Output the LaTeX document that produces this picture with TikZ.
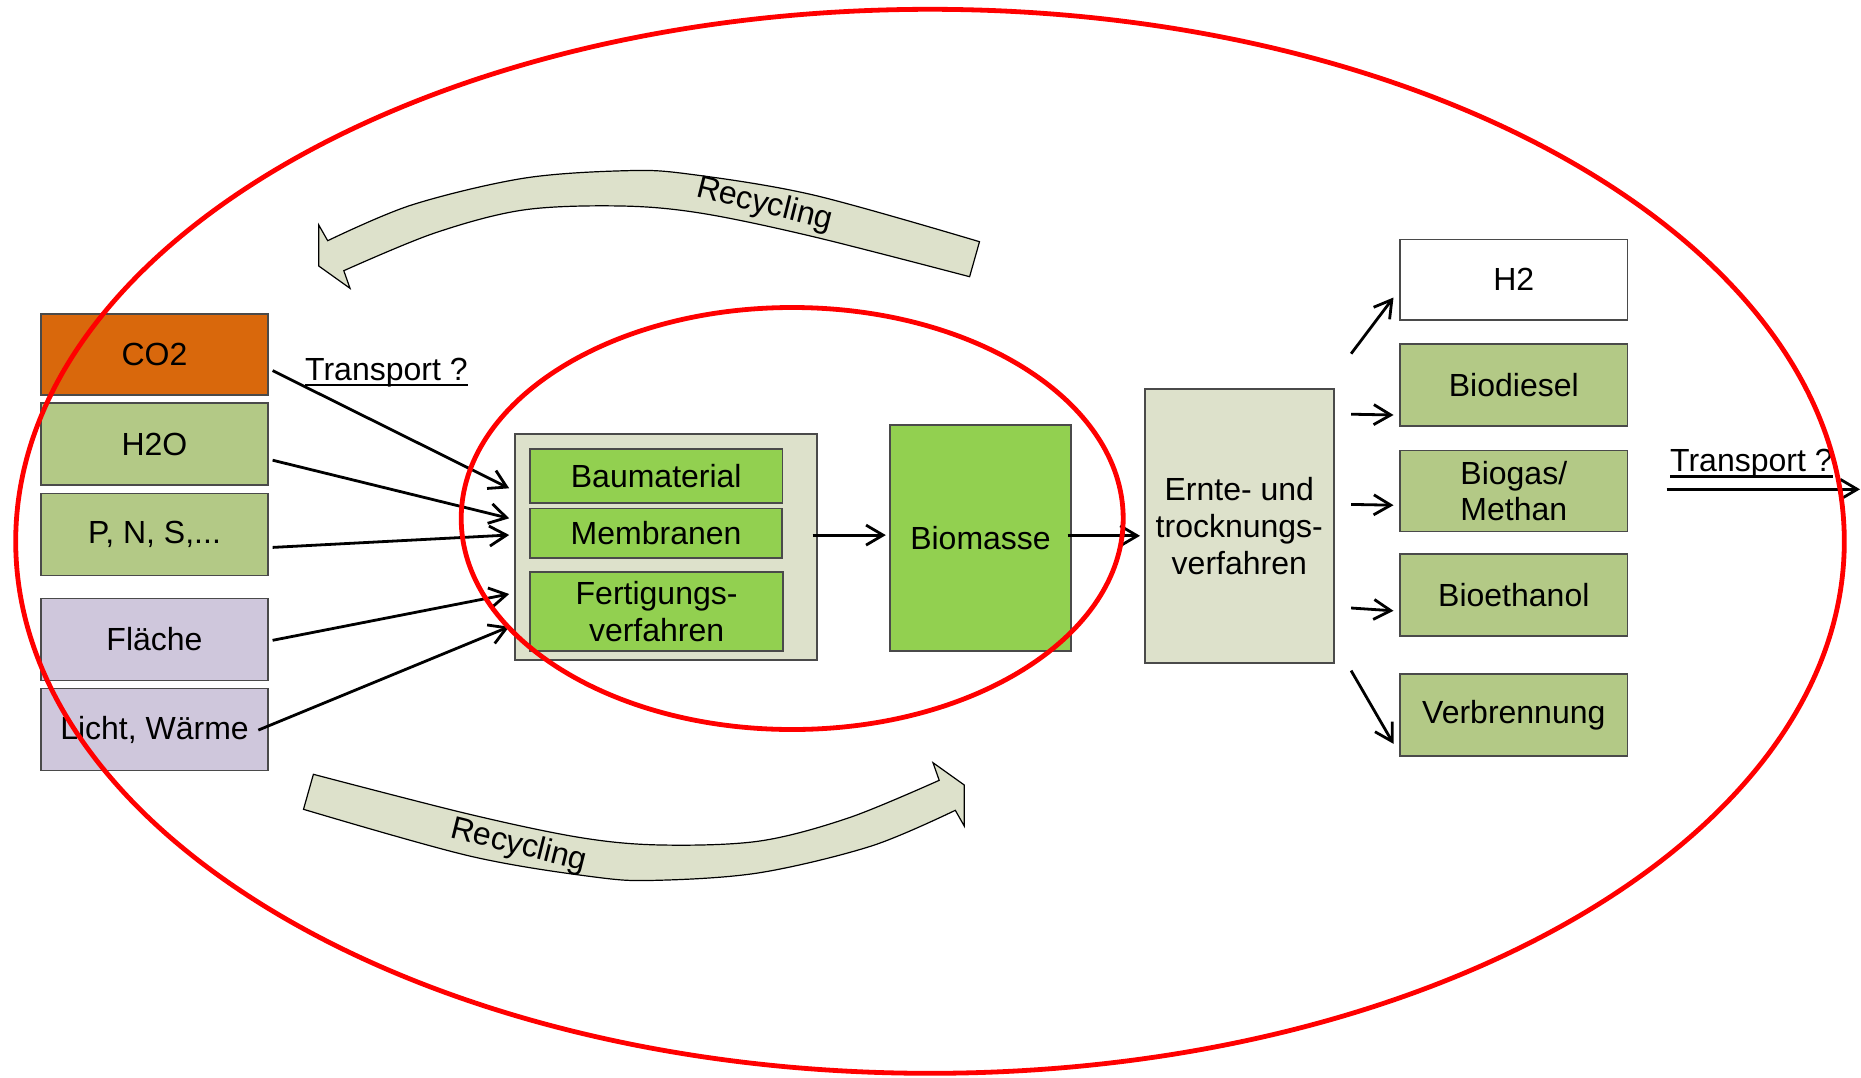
\documentclass[tikz,border=0pt]{standalone}
\usepackage{fontspec}
\setmainfont{Liberation Sans}
\usetikzlibrary{arrows.meta,calc}
\definecolor{cOrange}{HTML}{D9680C}
\definecolor{cOlive}{HTML}{B3C986}
\definecolor{cLime}{HTML}{92D050}
\definecolor{cLav}{HTML}{CFC7DC}
\definecolor{cTan}{HTML}{DDE1CB}
\definecolor{boxline}{HTML}{4A4A4A}
\definecolor{ringred}{HTML}{FF0000}
\begin{document}
\begin{tikzpicture}[x=1pt,y=-1pt,
  txt/.style={font=\fontsize{32}{36.7}\selectfont},
  box/.style={txt, draw=boxline, line width=1.6pt, anchor=north west, inner sep=0pt, align=center},
  conn/.style={line width=2.8pt, -{Straight Barb[length=17pt,width=20pt]}},
  recyc/.style={draw=black, line width=1.2pt, fill=cTan, line join=miter},
  ring/.style={draw=ringred, line width=4.8pt},
  uline/.style={line width=2.8pt}]
\useasboundingbox (0,0) rectangle (1861,1077);
\fill[white] (0,0) rectangle (1861,1077);

% recycling arrows
\draw[recyc] plot[smooth, tension=0.55] coordinates {(979.5,241.7) (813.4,195) (688.4,174) (625.9,170.7) (523.2,178.3) (411.6,205) (327.7,240.7)}
  -- (318.75,225) -- (318.75,266) -- (350,288.3)
  -- plot[smooth, tension=0.55] coordinates {(343.8,270.7) (433.9,233.3) (523.2,210) (621.4,206) (701.8,213.3) (813.4,236.7) (969.6,276.7)} -- cycle;
\begin{scope}[rotate around={180:(641.5,525.5)}]
\draw[recyc] plot[smooth, tension=0.55] coordinates {(979.5,241.7) (813.4,195) (688.4,174) (625.9,170.7) (523.2,178.3) (411.6,205) (327.7,240.7)}
  -- (318.75,225) -- (318.75,266) -- (350,288.3)
  -- plot[smooth, tension=0.55] coordinates {(343.8,270.7) (433.9,233.3) (523.2,210) (621.4,206) (701.8,213.3) (813.4,236.7) (969.6,276.7)} -- cycle;
\end{scope}
\node[txt, rotate=-14] (rec1) at (764.3,205) {Recycling};
\node[txt, rotate=-14] (rec2) at (518.7,846) {Recycling};

% left boxes
\node[box, fill=cOrange, minimum width=226.6pt, minimum height=81pt] (co2) at (40.4,313.3) {CO2};
\node[box, fill=cOlive, minimum width=226.6pt, minimum height=82pt] (h2o) at (40.4,402.4) {H2O};
\node[box, fill=cOlive, minimum width=226.6pt, minimum height=82pt] (pns) at (40.4,492.6) {P, N, S,...};
\node[box, fill=cLav, minimum width=226.6pt, minimum height=82pt] (fl) at (40.4,597.5) {Fläche};
\node[box, fill=cLav, minimum width=226.6pt, minimum height=82pt] (licht) at (40.4,687.7) {Licht, Wärme};

% middle group
\node[box, fill=cTan, minimum width=301.9pt, minimum height=225.7pt] (gray) at (514.2,433.3) {};
\node[box, fill=cLime, minimum width=252.5pt, minimum height=54pt] (bau) at (529.2,448) {Baumaterial};
\node[box, fill=cLime, minimum width=252.2pt, minimum height=49.3pt] (mem) at (529.2,507.7) {Membranen};
\node[box, fill=cLime, minimum width=253.2pt, minimum height=79pt] (fert) at (529.2,571) {Fertigungs-\\verfahren};
\node[box, fill=cLime, minimum width=181pt, minimum height=225.7pt] (bio) at (889.2,424.3) {Biomasse};
\node[box, fill=cTan, minimum width=189pt, minimum height=274.3pt] (ernte) at (1144,388) {Ernte- und\\trocknungs-\\verfahren};

% right boxes
\node[box, fill=white, minimum width=227.4pt, minimum height=80.7pt] (h2) at (1399.3,238.6) {H2};
\node[box, fill=cOlive, minimum width=227.4pt, minimum height=82pt] (diesel) at (1399.3,343) {Biodiesel};
\node[box, fill=cOlive, minimum width=227.4pt, minimum height=80.7pt] (biogas) at (1399.3,449.8) {Biogas/\\Methan};
\node[box, fill=cOlive, minimum width=227.4pt, minimum height=82pt] (ethanol) at (1399.3,553) {Bioethanol};
\node[box, fill=cOlive, minimum width=227.4pt, minimum height=82pt] (verbr) at (1399.3,673) {Verbrennung};

% transport labels
\node[txt, anchor=base west, inner sep=0pt] (trL) at (305,380) {Transport ?};
\draw[uline] ([yshift=-5pt]trL.base west) -- ([yshift=-5pt]trL.base east);
\node[txt, anchor=base west, inner sep=0pt] (trR) at (1670,471.7) {Transport ?};
\draw[uline] ([yshift=-4.5pt]trR.base west) -- ([yshift=-4.5pt]trR.base east);
\coordinate (tstart) at (1666.7,489.3);
\coordinate (tend) at (1860,489.3);

% connectors
\draw[conn] ([shift={(4,16)}]co2.east) -- ([shift={(-5,55)}]gray.north west);
\draw[conn] ([shift={(4,16)}]h2o.east) -- ([shift={(-5,85)}]gray.north west);
\draw[conn] ([shift={(4,13)}]pns.east) -- ([shift={(-5,101.7)}]gray.north west);
\draw[conn] ([shift={(4,1)}]fl.east) -- ([shift={(-5,160.7)}]gray.north west);
\draw[conn] ([shift={(-10.3,0.6)}]licht.east) -- ([shift={(-5,193.4)}]gray.north west);
\draw[conn] ([shift={(-5,-11.85)}]gray.east) -- ([shift={(-3.4,-2.85)}]bio.west);
\draw[conn] ([shift={(-4.2,-2.15)}]bio.east) -- ([shift={(-4,9.85)}]ernte.west);
\draw[conn] ([shift={(16.5,-34.3)}]ernte.north east) -- ([shift={(-5.8,17.75)}]h2.west);
\draw[conn] ([shift={(16.5,26.2)}]ernte.north east) -- ([shift={(-5.8,30.2)}]diesel.west);
\draw[conn] ([shift={(16.5,116.4)}]ernte.north east) -- ([shift={(-5.8,14.25)}]biogas.west);
\draw[conn] ([shift={(16.5,220)}]ernte.north east) -- ([shift={(-5.8,16)}]ethanol.west);
\draw[conn] ([shift={(16.5,282.6)}]ernte.north east) -- ([shift={(-5.8,29)}]verbr.west);
\draw[conn] (tstart) -- (tend);

% red rings
\draw[ring] (930,541.3) ellipse [x radius=914.3, y radius=532];
\draw[ring] (792.2,518.5) ellipse [x radius=331, y radius=211];
\end{tikzpicture}
\end{document}
